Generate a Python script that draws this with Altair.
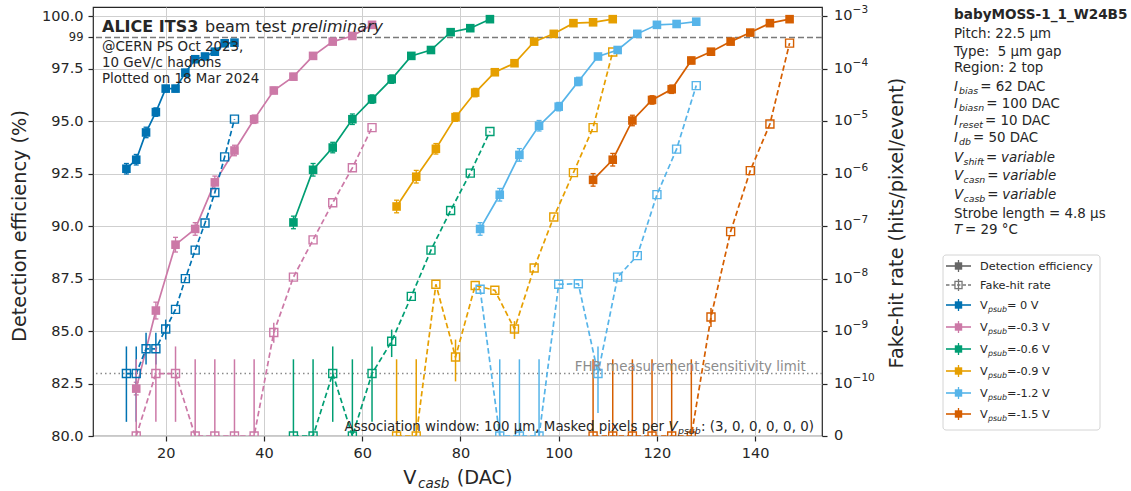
import altair as alt
import pandas as pd

FONT = "DejaVu Sans"
INK = "#262626"
W, H = 729, 429
LEFT, TOP = 93, 7
RIGHT_PAD = 1131 - LEFT - W
BOTTOM_PAD = 491 - TOP - H

X_DOMAIN = [5.2, 153.6]
EFF_DOMAIN = [80, 100.45]
FHR_DOMAIN = [-11, -2.82]          # log10 positions, -11 = symlog zero
X_TICKS = [20, 40, 60, 80, 100, 120, 140]
EFF_TICKS = [80, 82.5, 85, 87.5, 90, 92.5, 95, 97.5, 100, 99]
FHR_TICKS = [-11, -10, -9, -8, -7, -6, -5, -4, -3]
EFF_REF = 99
FHR_LIMIT = 1.55e-10

SERIES = ["0", "-0.3", "-0.6", "-0.9", "-1.2", "-1.5"]
LEGEND_TAILS = ["= 0 V", "=-0.3 V", "=-0.6 V", "=-0.9 V", "=-1.2 V", "=-1.5 V"]
COLORS = ["#0072B2", "#CC79A7", "#009E73", "#E69F00", "#56B4E9", "#D55E00"]

# ---- Vpsub = 0 V
DAC_0 = [12, 14, 16, 18, 20, 22, 24, 26, 28, 30, 32, 34]
EFF_0 = [92.74, 93.17, 94.47, 95.44, 96.56, 96.56, 97.32, 97.96, 98.09, 98.32, 98.72, 98.75]
EERR_0 = [0.25, 0.25, 0.25, 0.2, 0.15, 0.15, 0.15, 0.12, 0.12, 0.1, 0.1, 0.1]
FHR_0 = [1.55e-10, 1.55e-10, 4.6e-10, 4.6e-10, 1.1e-9, 2.6e-9, 1.0e-8, 3.5e-8, 1.15e-7, 4.4e-7, 2.1e-6, 1.1e-5]
FLO_0 = [2.7e-11, 2.7e-11, 2.3e-10, 2.3e-10, 6.9e-10, None, None, None, None, None, None, None]
FHI_0 = [5.1e-10, 5.1e-10, 9.3e-10, 9.3e-10, 1.66e-9, None, None, None, None, None, None, None]

# ---- Vpsub = -0.3 V
DAC_03 = [14, 18, 22, 26, 30, 34, 38, 42, 46, 50, 54, 58, 62]
EFF_03 = [82.26, 85.98, 89.12, 89.87, 92.09, 93.61, 95.1, 96.47, 97.13, 98.12, 98.8, 99.07, 99.6]
EERR_03 = [0.3, 0.4, 0.35, 0.3, 0.3, 0.25, 0.2, 0.15, 0.15, 0.1, 0.1, 0.1, 0.08]
FHR_03 = [0, 1.55e-10, 1.55e-10, 0, 0, 0, 0, 9.4e-10, 1.07e-8, 5.5e-8, 2.8e-7, 1.3e-6, 7.6e-6]
FLO_03 = [0, 2.7e-11, 2.7e-11, 0, 0, 0, 0, 6.0e-10, None, None, None, None, None]
FHI_03 = [2.9e-10, 5.1e-10, 5.1e-10, 2.9e-10, 2.9e-10, 2.9e-10, 2.9e-10, 1.45e-9, None, None, None, None, None]

# ---- Vpsub = -0.6 V
DAC_06 = [46, 50, 54, 58, 62, 66, 70, 74, 78, 82, 86]
EFF_06 = [90.18, 92.69, 93.75, 95.1, 96.06, 97.01, 98.12, 98.4, 99.25, 99.44, 99.87]
EERR_06 = [0.3, 0.3, 0.25, 0.25, 0.2, 0.2, 0.15, 0.1, 0.1, 0.08, 0.05]
FHR_06 = [0, 0, 1.55e-10, 0, 1.55e-10, 6.4e-10, 4.6e-9, 3.5e-8, 2.0e-7, 1.03e-6, 6.4e-6]
FLO_06 = [0, 0, 2.7e-11, 0, 2.7e-11, 3.2e-10, None, None, None, None, None]
FHI_06 = [2.9e-10, 2.9e-10, 5.1e-10, 2.9e-10, 5.1e-10, 1.07e-9, None, None, None, None, None]

# ---- Vpsub = -0.9 V
DAC_09 = [67, 71, 75, 79, 83, 87, 91, 95, 99, 103, 107, 111]
EFF_09 = [90.94, 92.36, 93.69, 95.2, 96.37, 97.34, 97.77, 98.8, 99.17, 99.68, 99.72, 99.87]
EERR_09 = [0.3, 0.3, 0.25, 0.2, 0.2, 0.15, 0.12, 0.1, 0.1, 0.08, 0.08, 0.05]
FHR_09 = [0, 0, 7.8e-9, 3.2e-10, 7.4e-9, 6.0e-9, 1.1e-9, 1.6e-8, 1.5e-7, 1.05e-6, 7.6e-6, 2.1e-4]
FLO_09 = [0, 0, None, 1.1e-10, None, None, 7.1e-10, None, None, None, None, None]
FHI_09 = [2.9e-10, 2.9e-10, None, 6.9e-10, None, None, 1.55e-9, None, None, None, None, None]

# ---- Vpsub = -1.2 V
DAC_12 = [84, 88, 92, 96, 100, 104, 108, 112, 116, 120, 124, 128]
EFF_12 = [89.87, 91.5, 93.4, 94.79, 95.7, 96.9, 98.09, 98.4, 99.17, 99.6, 99.64, 99.75]
EERR_12 = [0.3, 0.3, 0.3, 0.25, 0.2, 0.2, 0.12, 0.12, 0.1, 0.08, 0.08, 0.05]
FHR_12 = [6.3e-9, 0, 0, 0, 7.8e-9, 8.0e-9, 1.55e-10, 1.07e-8, 2.75e-8, 4.0e-7, 2.95e-6, 4.8e-5]
FLO_12 = [None, 0, 0, 0, None, None, 4.4e-11, None, None, None, None, None]
FHI_12 = [None, 2.9e-10, 2.9e-10, 2.9e-10, None, None, 5.1e-10, None, None, None, None, None]

# ---- Vpsub = -1.5 V
DAC_15 = [107, 111, 115, 119, 123, 127, 131, 135, 139, 143, 147]
EFF_15 = [92.21, 93.17, 95.04, 96.02, 96.53, 97.9, 98.32, 98.8, 99.23, 99.68, 99.87]
EERR_15 = [0.3, 0.3, 0.25, 0.2, 0.2, 0.15, 0.12, 0.1, 0.1, 0.08, 0.05]
FHR_15 = [0, 0, 0, 0, 0, 0, 1.86e-9, 7.9e-8, 1.15e-6, 8.9e-6, 3.1e-4]
FLO_15 = [0, 0, 0, 0, 0, 0, 1.2e-9, None, None, None, None]
FHI_15 = [2.9e-10, 2.9e-10, 2.9e-10, 2.9e-10, 2.9e-10, 2.9e-10, 2.75e-9, None, None, None, None]

DACS = [DAC_0, DAC_03, DAC_06, DAC_09, DAC_12, DAC_15]
EFFS = [EFF_0, EFF_03, EFF_06, EFF_09, EFF_12, EFF_15]
EERRS = [EERR_0, EERR_03, EERR_06, EERR_09, EERR_12, EERR_15]
FHRS = [FHR_0, FHR_03, FHR_06, FHR_09, FHR_12, FHR_15]
FLOS = [FLO_0, FLO_03, FLO_06, FLO_09, FLO_12, FLO_15]
FHIS = [FHI_0, FHI_03, FHI_06, FHI_09, FHI_12, FHI_15]

eff_rows, fhr_rows, ferr_rows = [], [], []
for s, dacs, effs, errs, fhrs, flos, fhis in zip(SERIES, DACS, EFFS, EERRS, FHRS, FLOS, FHIS):
    for d, e, r in zip(dacs, effs, errs):
        eff_rows.append({"series": s, "dac": d, "eff": e, "lo": e - r, "hi": e + r})
    for d, f, lo, hi in zip(dacs, fhrs, flos, fhis):
        fhr_rows.append({"series": s, "dac": d, "fhr": f})
        if lo is not None:
            ferr_rows.append({"series": s, "dac": d, "flo": lo, "fhi": hi})
eff_df = pd.DataFrame(eff_rows)
fhr_df = pd.DataFrame(fhr_rows)
ferr_df = pd.DataFrame(ferr_rows)
ONE = pd.DataFrame({"k": [0]})

# right-axis tick labels: "10" with a raised exponent, and "0" at the symlog zero
tick_df = pd.DataFrame({
    "v": FHR_TICKS,
    "base": ["0"] + ["10"] * (len(FHR_TICKS) - 1),
    "exp": [""] + ["\u2212" + str(-v) for v in FHR_TICKS[1:]],
})


def symlog(f):
    return f"datum.{f} >= 1e-10 ? log(datum.{f}) / LN10 : -11 + datum.{f} * 1e10"


X_SCALE = alt.Scale(domain=X_DOMAIN, nice=False, zero=False)
EFF_SCALE = alt.Scale(domain=EFF_DOMAIN, nice=False, zero=False)
FHR_SCALE = alt.Scale(domain=FHR_DOMAIN, nice=False, zero=False)
X_ENC = alt.X("dac:Q", scale=X_SCALE,
              axis=alt.Axis(values=X_TICKS, title=None, grid=True, labelPadding=5, labelOverlap=False))
COLOR = alt.Color("series:N", scale=alt.Scale(domain=SERIES, range=COLORS), legend=None)

EFF_AXIS = alt.Axis(
    orient="left", values=EFF_TICKS, title=None, grid=True, labelPadding=5, labelOverlap=False,
    labelFlush=False,
    labelExpr="datum.value == 99 ? '99' : format(datum.value, '.1f')",
    labelFontSize={"condition": {"test": "datum.value == 99", "value": 11.5}, "value": 14.5},
    gridOpacity={"condition": {"test": "datum.value == 99", "value": 0}, "value": 1},
)
FHR_AXIS = alt.Axis(orient="right", values=FHR_TICKS, title=None, grid=False, labels=False)

rule99 = alt.Chart(ONE).mark_rule(color="#7a7a7a", strokeWidth=1.5, strokeDash=[6, 3]).encode(
    y=alt.YDatum(EFF_REF, scale=EFF_SCALE, axis=None))
limit = alt.Chart(pd.DataFrame({"fhr": [FHR_LIMIT]})).transform_calculate(fy=symlog("fhr")).mark_rule(
    color="#8a8a8a", strokeWidth=1.5, strokeDash=[1.5, 3]).encode(
    y=alt.Y("fy:Q", scale=FHR_SCALE, axis=None))

eff_lines = alt.Chart(eff_df).mark_line(strokeWidth=1.7).encode(
    x=X_ENC, y=alt.Y("eff:Q", scale=EFF_SCALE, axis=EFF_AXIS), color=COLOR, detail="series:N")
fhr_lines = alt.Chart(fhr_df).transform_calculate(fy=symlog("fhr")).mark_line(
    strokeWidth=1.7, strokeDash=[5.5, 3], clip=True).encode(
    x=X_ENC, y=alt.Y("fy:Q", scale=FHR_SCALE, axis=FHR_AXIS), color=COLOR, detail="series:N")
eff_err = alt.Chart(eff_df).mark_rule(strokeWidth=1.3).encode(
    x=X_ENC, y=alt.Y("lo:Q", scale=EFF_SCALE, axis=None), y2="hi:Q", color=COLOR)
eff_caps = alt.Chart(eff_df).transform_fold(["lo", "hi"], as_=["k", "v"]).mark_tick(
    orient="horizontal", size=5, thickness=1.3, opacity=1).encode(
    x=X_ENC, y=alt.Y("v:Q", scale=EFF_SCALE, axis=None), color=COLOR)
fhr_err = alt.Chart(ferr_df).transform_calculate(a=symlog("flo"), b=symlog("fhi")).mark_rule(
    strokeWidth=1.5, clip=True).encode(
    x=X_ENC, y=alt.Y("a:Q", scale=FHR_SCALE, axis=None), y2="b:Q", color=COLOR)
fhr_pts = alt.Chart(fhr_df).transform_calculate(fy=symlog("fhr")).mark_point(
    shape="square", filled=False, size=64, strokeWidth=1.4, opacity=1, clip=True).encode(
    x=X_ENC, y=alt.Y("fy:Q", scale=FHR_SCALE, axis=None), color=COLOR)
eff_pts = alt.Chart(eff_df).mark_square(size=74, opacity=1).encode(
    x=X_ENC, y=alt.Y("eff:Q", scale=EFF_SCALE, axis=None), color=COLOR)

fhr_tick_base = alt.Chart(tick_df).mark_text(
    align="left", baseline="middle", font=FONT, fontSize=14.5, color=INK).encode(
    x=alt.value(W + 12), y=alt.Y("v:Q", scale=FHR_SCALE, axis=None), text="base:N")
fhr_tick_exp = alt.Chart(tick_df).mark_text(
    align="left", baseline="middle", font=FONT, fontSize=10.5, color=INK, dy=-6).encode(
    x=alt.value(W + 12 + 18.6), y=alt.Y("v:Q", scale=FHR_SCALE, axis=None), text="exp:N")


def at(x, y):
    return dict(x=alt.value(x - LEFT), y=alt.value(y - TOP))


def text(s, x, y, size=13.4, style="normal", weight="normal", color=INK, align="left",
         baseline="alphabetic", angle=0):
    return alt.Chart(ONE).mark_text(
        text=s, font=FONT, fontSize=size, fontStyle=style, fontWeight=weight, color=color,
        align=align, baseline=baseline, angle=angle).encode(**at(x, y))


ann = []
# header inside the plot
ann += [
    text("ALICE ITS3", 102, 32, size=16, weight="bold"),
    text("beam test", 205, 32, size=16),
    text("preliminary", 291.5, 32, size=16, style="italic"),
    text("@CERN PS Oct 2023,", 102, 50.5),
    text("10 GeV/c hadrons", 102, 66.5),
    text("Plotted on 18 Mar 2024", 102, 82.5),
    text("FHR measurement sensitivity limit", 805.7, 370.5, color="#8c8c8c", align="right"),
    text("Association window: 100 µm, Masked pixels per", 664, 431, align="right"),
    text("V", 668.5, 431, style="italic"),
    text("psub", 678, 434, size=9.4, style="italic"),
    text(": (3, 0, 0, 0, 0, 0)", 701, 431),
]
# axis titles
ann += [
    text("Detection efficiency (%)", 20, 226, size=19.3, align="center", baseline="middle", angle=270),
    text("Fake-hit rate (hits/pixel/event)", 897, 223, size=19.3, align="center", baseline="middle", angle=270),
    text("V", 403.3, 484, size=19.3),
    text("casb", 418, 488, size=13.5, style="italic"),
    text("(DAC)", 456.7, 484, size=19.3),
]

# right-hand info panel
RX = 954
SUB = 9.4
ann.append(text("babyMOSS-1_1_W24B5", RX, 18.8, size=13.6, weight="bold"))
ann.append(text("Pitch: 22.5 µm", RX, 37.8))
ann.append(text("Type:\u00a0 5 µm gap", RX, 55.8))
ann.append(text("Region: 2 top", RX, 71.8))
for sym, sub, rest, yc, subw in [("I", "bias", "= 62 DAC", 86, 19.2), ("I", "biasn", "= 100 DAC", 103, 25.2),
                                 ("I", "reset", "= 10 DAC", 120, 24.0), ("I", "db", "= 50 DAC", 137, 11.9)]:
    yb = yc + 4.8
    ann += [text(sym, RX, yb, style="italic"), text(sub, RX + 5, yb + 3, size=SUB, style="italic"),
            text(rest, RX + 5 + subw + 2, yb)]
for sub, yc, subw in [("shift", 157, 20.5), ("casn", 175, 21.8), ("casb", 194, 21.8)]:
    yb = yc + 4.8
    x0 = RX + 9.5 + subw + 2
    ann += [text("V", RX, yb, style="italic"), text(sub, RX + 9.5, yb + 3, size=SUB, style="italic"),
            text("=", x0, yb), text("variable", x0 + 15, yb, style="italic")]
ann.append(text("Strobe length = 4.8 µs", RX, 217.8))
ann += [text("T", RX, 233.8, style="italic"), text("= 29 °C", RX + 11, 233.8)]

# hand-drawn legend
legend = [alt.Chart(ONE).mark_rect(fill="white", stroke="#d4d4d4", strokeWidth=1, cornerRadius=3).encode(
    x=alt.value(943 - LEFT), x2=alt.value(1100 - LEFT), y=alt.value(255 - TOP), y2=alt.value(430 - TOP))]


def legend_symbol(y, color, dashed=False, filled=True):
    kw = {"strokeDash": [3.5, 2]} if dashed else {}
    out = [
        alt.Chart(ONE).mark_rule(color=color, strokeWidth=1.6, **kw).encode(
            x=alt.value(946 - LEFT), x2=alt.value(971 - LEFT), y=alt.value(y - TOP)),
        alt.Chart(ONE).mark_rule(color=color, strokeWidth=1.3).encode(
            x=alt.value(958.5 - LEFT), y=alt.value(y - 6 - TOP), y2=alt.value(y + 6 - TOP)),
    ]
    if filled:
        out.append(alt.Chart(ONE).mark_square(color=color, size=55, opacity=1).encode(**at(958.5, y)))
    else:
        out.append(alt.Chart(ONE).mark_point(shape="square", filled=False, color=color, size=50,
                                             strokeWidth=1.3, opacity=1).encode(**at(958.5, y)))
    return out


LEG_Y = [266, 285, 305, 327, 349, 371, 393, 414]
legend += legend_symbol(LEG_Y[0], "#666666")
legend.append(text("Detection efficiency", 980, LEG_Y[0] + 4, size=11.3))
legend += legend_symbol(LEG_Y[1], "#777777", dashed=True, filled=False)
legend.append(text("Fake-hit rate", 980, LEG_Y[1] + 4, size=11.3))
for yy, col, tail in zip(LEG_Y[2:], COLORS, LEGEND_TAILS):
    legend += legend_symbol(yy, col)
    legend += [text("V", 980, yy + 4, size=11.3), text("psub", 988, yy + 6.5, size=7.9, style="italic"),
               text(tail, 1007, yy + 4, size=11.3)]

chart = alt.layer(
    rule99, limit, eff_lines, fhr_lines, eff_err, eff_caps, fhr_err, fhr_pts, eff_pts,
    fhr_tick_base, fhr_tick_exp, *ann, *legend
).resolve_scale(y="independent").properties(
    width=W, height=H,
    padding={"left": LEFT, "top": TOP, "right": RIGHT_PAD, "bottom": BOTTOM_PAD},
    autosize=alt.AutoSizeParams(type="none"),
).configure(background="white", font=FONT).configure_view(
    stroke=INK, strokeWidth=1.2
).configure_axis(
    labelFont=FONT, labelFontSize=14.5, labelColor=INK, tickColor=INK, tickSize=5, tickWidth=1.2,
    domain=False, gridColor="#cfcfcf", gridWidth=1,
)

chart.save("out.html", embed_options={"renderer": "svg", "actions": False})
